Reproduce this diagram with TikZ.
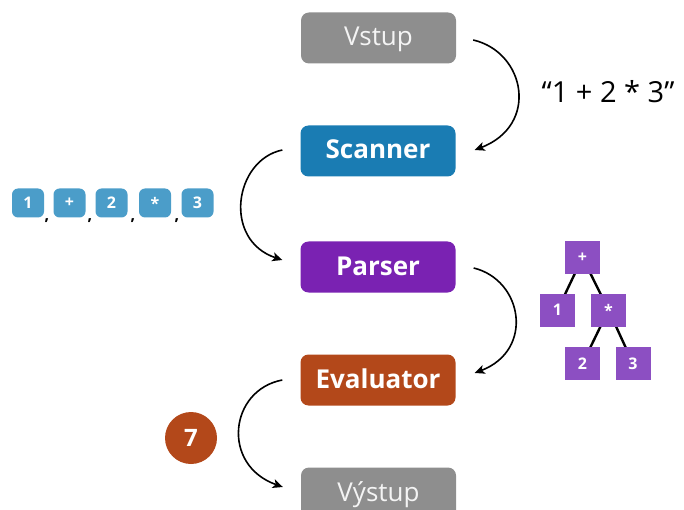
\documentclass[tikz,border=0pt]{standalone}
\usepackage{fontspec}
\setmainfont{Open Sans}
\usetikzlibrary{arrows.meta,calc,backgrounds}

\definecolor{ioGray}{HTML}{8E8E8E}
\definecolor{ioText}{HTML}{F4F4F4}
\definecolor{scanBlue}{HTML}{1A7CB3}
\definecolor{parsePurple}{HTML}{7A22B2}
\definecolor{evalBrown}{HTML}{B3481A}
\definecolor{tokBlue}{HTML}{4B9DC9}
\definecolor{treePurple}{HTML}{8C4FC2}

\begin{document}
\begin{tikzpicture}[x=1pt,y=-1pt,
  stage/.style={rounded corners=8pt, minimum width=155pt, minimum height=51pt,
    inner sep=0pt, text height=20pt, text depth=4pt, text=white,
    font=\fontsize{26}{30}\selectfont\bfseries},
  io/.style={stage, fill=ioGray, text=ioText, font=\fontsize{26}{30}\selectfont},
  flow/.style={line width=1.6pt, -{Stealth[length=10pt,width=9pt,inset=2.5pt]}},
  token/.style={fill=tokBlue, rounded corners=6pt, minimum width=32pt,
    minimum height=29pt, inner sep=0pt, text=white,
    font=\fontsize{16}{18}\selectfont\bfseries},
  treebox/.style={fill=treePurple, minimum width=35pt, minimum height=33pt,
    inner sep=0pt, text=white, font=\fontsize{16}{18}\selectfont\bfseries},
  sep/.style={font=\fontsize{16}{18}\selectfont\bfseries, inner sep=0pt, anchor=base},
  edge/.style={line width=2.4pt}
]
\useasboundingbox (0,0) rectangle (684,510);
\clip (0,0) rectangle (684,510);

% pipeline stages
\node[io] (vstup) at (378.5,38) {Vstup};
\node[stage, fill=scanBlue] (scanner) at (378,151) {Scanner};
\node[stage, fill=parsePurple] (parser) at (378,267) {Parser};
\node[stage, fill=evalBrown] (evaluator) at (378,380) {Evaluator};
\node[io] (vystup) at (378.5,493) {Výstup};

% flow between stages
\draw[flow] ($(vstup.east)+(17,2)$) .. controls +(52,12) and +(65,-25) .. ($(scanner.east)+(19,-1)$);
\draw[flow] ($(scanner.west)+(-18,-1)$) .. controls +(-48,10) and +(-60,-20) .. ($(parser.west)+(-18,-7)$);
\draw[flow] ($(parser.east)+(18,1)$) .. controls +(49,12) and +(60,-23) .. ($(evaluator.east)+(19,-7)$);
\draw[flow] ($(evaluator.west)+(-18,0)$) .. controls +(-53,10) and +(-62,-22) .. ($(vystup.west)+(-18,-6)$);

% source text
\node[font=\fontsize{29}{34}\selectfont, inner sep=0pt, anchor=base] (source) at (608,103) {“1 + 2 * 3”};

% token stream
\node[token] (t1) at (28,203) {1};
\node[token] (tplus) at (69.5,203) {+};
\node[token] (t2) at (111.5,203) {2};
\node[token] (tstar) at (155,203) {*};
\node[token] (t3) at (197.5,203) {3};
\node[sep] (c1) at (47,221) {,};
\node[sep] (c2) at (90,221) {,};
\node[sep] (c3) at (133,221) {,};
\node[sep] (c4) at (177,221) {,};

% syntax tree
\node[treebox] (plus) at (582.5,257.5) {+};
\node[treebox] (one) at (557.5,310) {1};
\node[treebox] (star) at (608.5,310) {*};
\node[treebox] (two) at (582.5,363.5) {2};
\node[treebox] (three) at (633,363.5) {3};
\begin{scope}[on background layer]
  \draw[edge] (plus.center) -- (one.center);
  \draw[edge] (plus.center) -- (star.center);
  \draw[edge] (star.center) -- (two.center);
  \draw[edge] (star.center) -- (three.center);
\end{scope}

% result
\node[circle, fill=evalBrown, minimum size=52pt, inner sep=0pt, text=white,
  font=\fontsize{24}{28}\selectfont\bfseries] (result) at (191,438) {7};
\end{tikzpicture}
\end{document}
